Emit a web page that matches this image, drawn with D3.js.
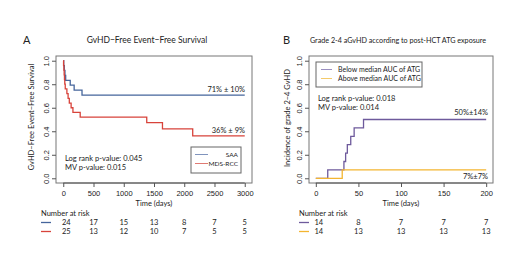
<!DOCTYPE html>
<html>
<head>
<meta charset="utf-8">
<script src="https://cdn.jsdelivr.net/npm/d3@7"></script>
<style>
  body { margin: 0; background: #fff; }
  svg { display: block; }
  text { font-family: Lato, "Open Sans", sans-serif; fill: #222; }
  .tick text { font-family: "Liberation Sans", Arial, sans-serif; }
</style>
</head>
<body>
<svg id="chart"></svg>
<script>
// panel A: GvHD-free event-free survival (Kaplan-Meier steps)
const saaTime = [0, 8, 18, 28, 40, 115, 180, 310, 3000];
const saaSurv = [1, 0.958, 0.917, 0.875, 0.833, 0.792, 0.75, 0.708, 0.708];
const mdsTime = [0, 5, 10, 15, 20, 25, 33, 60, 80, 100, 130, 160, 280, 1380, 1640, 2140, 3000];
const mdsSurv = [1, 0.96, 0.92, 0.88, 0.84, 0.80, 0.76, 0.72, 0.68, 0.64, 0.60, 0.56, 0.52, 0.473, 0.42, 0.36, 0.36];
const ticksA = [0, 500, 1000, 1500, 2000, 2500, 3000];
const riskSAA = [24, 17, 15, 13, 8, 7, 5];
const riskMDS = [25, 13, 12, 10, 7, 5, 5];

// panel B: cumulative incidence of grade 2-4 aGvHD
const belowTime = [0, 14, 33, 35, 37, 41, 45, 56, 200];
const belowInc = [0, 0.071, 0.143, 0.214, 0.286, 0.357, 0.429, 0.5, 0.5];
const aboveTime = [0, 31, 200];
const aboveInc = [0, 0.071, 0.071];
const ticksB = [0, 50, 100, 150, 200];
const riskBelow = [14, 8, 7, 7, 7];
const riskAbove = [14, 13, 13, 13, 13];

const yTicks = [0, 0.2, 0.4, 0.6, 0.8, 1.0];

const svg = d3.select('#chart').attr('width', 520).attr('height', 260);

function drawPanel(cfg) {
  const g = svg.append('g');
  const x = d3.scaleLinear().domain(cfg.xDomain).range([cfg.left, cfg.right]);
  const y = d3.scaleLinear().domain([-0.04, 1.04]).range([183, 56]);

  // box
  g.append('rect')
      .attr('x', cfg.left).attr('y', 56)
      .attr('width', cfg.right - cfg.left).attr('height', 127)
      .attr('fill', 'none').attr('stroke', '#777').attr('stroke-width', 1);

  // axes (R style: line only between first and last tick)
  const xAxis = g.append('g').attr('transform', 'translate(0,183)')
      .call(d3.axisBottom(x).tickValues(cfg.ticks).tickSize(4).tickPadding(4).tickFormat(d3.format('d')));
  const yAxis = g.append('g').attr('transform', `translate(${cfg.left},0)`)
      .call(d3.axisLeft(y).tickValues(yTicks).tickSize(4).tickPadding(3).tickFormat(d3.format('.1f')));
  [xAxis, yAxis].forEach(a => {
    a.select('.domain').remove();
    a.selectAll('line').attr('stroke', '#555');
    a.selectAll('text').attr('font-size', 7.5).attr('fill', '#333');
  });
  xAxis.append('line')
      .attr('x1', x(cfg.ticks[0])).attr('x2', x(cfg.ticks[cfg.ticks.length - 1]))
      .attr('stroke', '#555');
  yAxis.selectAll('.tick text')
      .attr('transform', 'rotate(-90)')
      .attr('x', 0).attr('dy', 0).attr('y', -7)
      .attr('text-anchor', 'middle');

  // curves
  const line = d3.line().curve(d3.curveStepAfter).x(d => x(d[0])).y(d => y(d[1]));
  cfg.series.forEach(s => {
    g.append('path')
        .datum(d3.zip(s.time, s.val))
        .attr('d', line)
        .attr('fill', 'none')
        .attr('stroke', s.color)
        .attr('stroke-width', 1.3);
  });

  // labels
  g.append('text').attr('x', cfg.letterX).attr('y', 44)
      .attr('font-size', 11).text(cfg.letter);
  g.append('text').attr('x', cfg.titleX).attr('y', 43)
      .attr('font-size', cfg.titleSize).attr('text-anchor', 'middle').text(cfg.title);
  g.append('text')
      .attr('transform', `translate(${cfg.ylabX},${cfg.ylabY}) rotate(-90)`)
      .attr('font-size', 7.5).attr('text-anchor', 'middle').text(cfg.ylab);
  g.append('text').attr('x', (x(cfg.ticks[0]) + x(cfg.ticks[cfg.ticks.length - 1])) / 2).attr('y', 206)
      .attr('font-size', 7.5).attr('text-anchor', 'middle').text('Time (days)');

  // number at risk
  g.append('text').attr('x', cfg.riskX).attr('y', 216)
      .attr('font-size', 7.5).text('Number at risk');
  cfg.series.forEach((s, i) => {
    const ry = 225 + i * 9;
    g.append('line')
        .attr('x1', cfg.riskX).attr('x2', cfg.riskX + 10)
        .attr('y1', ry - 2.5).attr('y2', ry - 2.5)
        .attr('stroke', s.color).attr('stroke-width', 1.3);
    g.selectAll(null).data(s.risk).join('text')
        .attr('x', (d, j) => x(cfg.ticks[j]) + (j === 0 ? 3 : 0))
        .attr('y', ry)
        .attr('font-size', 7.5)
        .attr('text-anchor', 'middle')
        .text(d => d);
  });

  return {g, x, y};
}

// ---- panel A
const A = drawPanel({
  left: 56, right: 252, xDomain: [-120, 3120], ticks: ticksA,
  letter: 'A', letterX: 23, title: 'GvHD\u2212Free Event\u2212Free Survival', titleX: 147, titleSize: 8.5,
  ylab: 'GvHD\u2212Free Event\u2212Free Survival', ylabX: 34, ylabY: 117,
  riskX: 41,
  series: [
    {time: saaTime, val: saaSurv, color: '#45659c', risk: riskSAA},
    {time: mdsTime, val: mdsSurv, color: '#d8433b', risk: riskMDS}
  ]
});
A.g.append('text').attr('x', 245).attr('y', 92).attr('font-size', 7.5)
    .attr('text-anchor', 'end').text('71% \u00b1 10%');
A.g.append('text').attr('x', 245).attr('y', 133).attr('font-size', 7.5)
    .attr('text-anchor', 'end').text('36% \u00b1 9%');
A.g.append('text').attr('x', 65).attr('y', 161).attr('font-size', 7.5).text('Log rank p-value: 0.045');
A.g.append('text').attr('x', 65).attr('y', 170).attr('font-size', 7.5).text('MV p-value: 0.015');
A.g.append('rect').attr('x', 191).attr('y', 147).attr('width', 50).attr('height', 26)
    .attr('fill', '#fff').attr('stroke', '#666');
[['SAA', '#8094bd'], ['MDS-RCC', '#e07a73']].forEach((d, i) => {
  const ly = 157 + i * 9;
  A.g.append('line').attr('x1', 195).attr('x2', 208).attr('y1', ly - 2.5).attr('y2', ly - 2.5)
      .attr('stroke', d[1]).attr('stroke-width', 1);
  A.g.append('text').attr('x', 238).attr('y', ly).attr('font-size', 6.5)
      .attr('text-anchor', 'end').text(d[0]);
});

// ---- panel B
const B = drawPanel({
  left: 309, right: 493, xDomain: [-8, 208], ticks: ticksB,
  letter: 'B', letterX: 283, title: 'Grade 2-4 aGvHD according to post-HCT ATG exposure', titleX: 398, titleSize: 7.2,
  ylab: 'Incidence of grade 2\u22124 GvHD', ylabX: 290, ylabY: 118,
  riskX: 299,
  series: [
    {time: belowTime, val: belowInc, color: '#6e5a9c', risk: riskBelow},
    {time: aboveTime, val: aboveInc, color: '#f3b530', risk: riskAbove}
  ]
});
B.g.append('text').attr('x', 488).attr('y', 115).attr('font-size', 7.5)
    .attr('text-anchor', 'end').text('50%\u00b114%');
B.g.append('text').attr('x', 488).attr('y', 179).attr('font-size', 7.5)
    .attr('text-anchor', 'end').text('7%\u00b17%');
B.g.append('text').attr('x', 318).attr('y', 101).attr('font-size', 7.5).text('Log rank p-value: 0.018');
B.g.append('text').attr('x', 318).attr('y', 110).attr('font-size', 7.5).text('MV p-value: 0.014');
B.g.append('rect').attr('x', 316).attr('y', 62).attr('width', 106).attr('height', 25)
    .attr('fill', '#fff').attr('stroke', '#666');
[['Below median AUC of ATG', '#9a8fc0'], ['Above median AUC of ATG', '#f4ca6a']].forEach((d, i) => {
  const ly = 72 + i * 9;
  B.g.append('line').attr('x1', 321).attr('x2', 332).attr('y1', ly - 2.5).attr('y2', ly - 2.5)
      .attr('stroke', d[1]).attr('stroke-width', 1);
  B.g.append('text').attr('x', 338).attr('y', ly).attr('font-size', 7).text(d[0]);
});
</script>
</body>
</html>
